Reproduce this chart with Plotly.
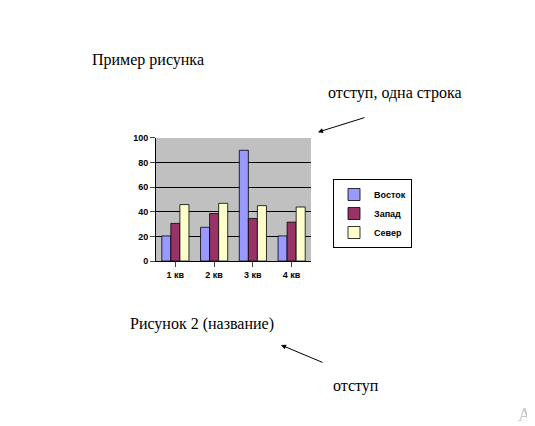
import plotly.graph_objects as go

categories = ["1 кв", "2 кв", "3 кв", "4 кв"]
vostok = [20.4, 27.4, 90, 20.4]
zapad = [30.6, 38.6, 34.6, 31.6]
sever = [45.9, 46.9, 45, 43.9]
series = [("Восток", vostok, "#9999ff"), ("Запад", zapad, "#993366"), ("Север", sever, "#ffffcc")]

fig = go.Figure()
for name, vals, col in series:
    fig.add_trace(go.Bar(x=categories, y=vals, name=name, marker=dict(color=col, line=dict(color="black", width=0.8))))

W, H = 535, 426
def px(x): return x / W
def py(y): return 1 - y / H

fig.update_layout(
    width=W, height=H, margin=dict(l=0, r=0, t=0, b=0),
    paper_bgcolor="white", plot_bgcolor="#c0c0c0",
    barmode="group", bargap=0.3, bargroupgap=0,
    font=dict(family="Arial", size=9, color="black"),
    xaxis=dict(domain=[px(148), px(303)], showline=True, linecolor="black", ticks="outside",
               tickfont=dict(family="Arial", size=9, color="black", weight="bold")),
    yaxis=dict(domain=[py(254), py(128)], range=[0, 100], dtick=20, showgrid=True, gridcolor="black",
               gridwidth=1, showline=True, linecolor="black", ticks="outside", zeroline=False,
               tickfont=dict(family="Arial", size=9, color="black", weight="bold")),
    legend=dict(x=px(325), y=py(170), xanchor="left", yanchor="top", bordercolor="black", borderwidth=1,
                bgcolor="white", font=dict(family="Arial", size=9, weight="bold"), tracegroupgap=4),
    showlegend=True,
)
serif = "Liberation Serif"
for text, x, y, size, col in [("Пример рисунка", 82, 48, 16, "black"),
                               ("отступ, одна строка", 318, 82, 16, "black"),
                               ("Рисунок 2 (название)", 120, 318, 16, "black"),
                               ("отступ", 323, 382, 16, "black"),
                               ("Ак", 508, 412, 18, "#c8c8c8")]:
    fig.add_annotation(x=px(x), y=py(y), xref="paper", yref="paper", text=text, showarrow=False,
                       xanchor="left", yanchor="middle", font=dict(family=serif, size=size, color=col))
for (x0, y0, x1, y1) in [(358, 107, 310, 122), (316, 358, 273, 340)]:
    fig.add_annotation(x=px(x1), y=py(y1), ax=x0 - x1, ay=y0 - y1, xref="paper", yref="paper",
                       text="", showarrow=True, arrowhead=2,
                       arrowsize=1, arrowwidth=1, arrowcolor="black")
fig.write_html("out.html")
